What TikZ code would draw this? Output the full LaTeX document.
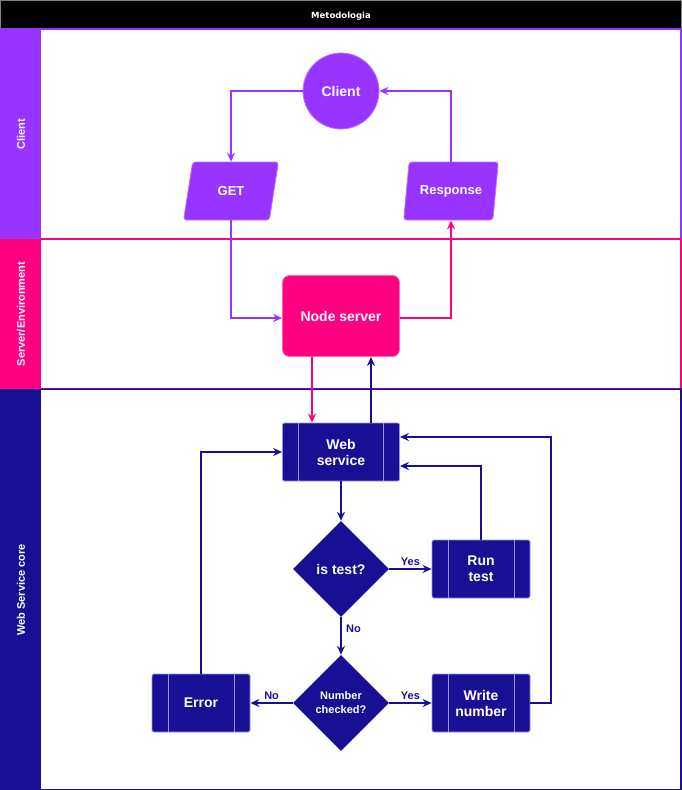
\documentclass[tikz,border=0pt]{standalone}
\usepackage{fontspec}
\setmainfont{Liberation Sans}
\newfontfamily\titlefont{DejaVu Sans}
\usetikzlibrary{shapes.geometric,arrows.meta}
\definecolor{cpurple}{HTML}{9933FF}
\definecolor{cpink}{HTML}{FF0080}
\definecolor{cnavy}{HTML}{190F94}
\definecolor{cline}{HTML}{9A92E0}
\begin{document}
\begin{tikzpicture}[x=1pt,y=-1pt,
  lbl/.style={font=\fontsize{14}{16}\selectfont\bfseries, text=white, align=center},
  io/.style={trapezium, trapezium left angle=71, trapezium right angle=109,
    trapezium stretches=true, minimum width=95pt, minimum height=58pt, inner sep=0pt,
    rounded corners=3pt, fill=cpurple, draw=cpurple!70!white, line width=0.8pt,
    font=\fontsize{13}{15}\selectfont\bfseries, text=white},
  proc/.style={rectangle, rounded corners=2pt, fill=cnavy, draw=cline, line width=0.8pt,
    minimum width=98pt, minimum height=58pt, inner sep=0pt, lbl,
    path picture={
      \draw[cline, line width=0.8pt]
        ([xshift=16pt]path picture bounding box.north west) -- ([xshift=16pt]path picture bounding box.south west)
        ([xshift=-16pt]path picture bounding box.north east) -- ([xshift=-16pt]path picture bounding box.south east);}},
  decision/.style={diamond, aspect=1, fill=cnavy, minimum width=96pt, minimum height=96pt,
    inner sep=0pt, text=white, align=center},
  flow/.style={line width=1.6pt, -{Stealth[length=9pt,width=8pt,inset=3pt]}},
  edgelbl/.style={font=\fontsize{11}{13}\selectfont\bfseries, text=cnavy},
  lanelbl/.style={rotate=90, font=\fontsize{11}{13}\selectfont\bfseries, text=white}]
\useasboundingbox (0,0) rectangle (682,790);

% title bar
\fill[black] (0,0) rectangle (682,28);
\draw[gray, line width=1pt] (0.5,0.5) rectangle (681.5,28);
\node[font=\titlefont\fontsize{8.5}{10}\selectfont\bfseries, text=white] (title) at (341,16) {Metodologia};

% swimlanes
\fill[cpurple] (0,28) rectangle (41,239);
\draw[cpurple, line width=1.5pt] (41,29) -- (681,29) -- (681,239);
\node[lanelbl] (laneclient) at (21,134) {Client};

\fill[cpink] (0,239) rectangle (41,389);
\draw[cpink, line width=1.5pt] (41,239) -- (681,239) -- (681,389);
\node[lanelbl] (laneserver) at (21,314) {Server/Environment};

\fill[cnavy] (0,389) rectangle (41,790);
\draw[cnavy, line width=1.5pt] (41,389) -- (681,389) -- (681,789.25) -- (41,789.25);
\node[lanelbl] (laneweb) at (21,590) {Web Service core};
\draw[cpink!50!cnavy, line width=1pt] (41,388.5) -- (681,388.5);

% client lane
\node[circle, fill=cpurple, draw=cpurple!70!white, line width=0.8pt, minimum size=76pt, inner sep=0pt, lbl] (client) at (341,91) {Client};
\node[io] (get) at (231,191) {GET};
\node[io] (resp) at (451,191) {Response};

% server lane
\node[rectangle, rounded corners=7pt, fill=cpink, draw=cpink!60!white, line width=0.8pt,
  minimum width=117pt, minimum height=81pt, inner sep=0pt, lbl] (ns) at (341,316) {Node server};

% web service core lane
\node[proc, minimum width=117pt] (ws) at (341,452) {Web\\service};
\node[decision, lbl] (d1) at (341,569) {is test?};
\node[proc] (rt) at (481,569) {Run\\test};
\node[decision, font=\fontsize{11}{14}\selectfont\bfseries] (d2) at (341,703) {Number\\checked?};
\node[proc] (err) at (201,703) {Error};
\node[proc] (wn) at (481,703) {Write\\number};
\coordinate (wr) at (551,437);

% connectors
\draw[flow, cpurple] (client.west) -| (get.north);
\draw[flow, cpurple] (resp.north) |- (client.east);
\draw[flow, cpurple] (get.south) |- ([yshift=-2pt]ns.west);
\draw[flow, cpink] ([yshift=-2pt]ns.east) -| (resp.south);
\draw[flow, cpink] ([xshift=-29pt]ns.south) -- ([xshift=-29pt]ws.north);
\draw[flow, cnavy] ([xshift=30pt]ws.north) -- ([xshift=30pt]ns.south);
\draw[flow, cnavy] (ws.south) -- (d1.north);
\draw[flow, cnavy] (d1.east) -- (rt.west) node[edgelbl, midway, above, yshift=-1pt] {Yes};
\draw[flow, cnavy] (d1.south) -- (d2.north) node[edgelbl, pos=0.3, right, xshift=1pt] {No};
\draw[flow, cnavy] (d2.west) -- (err.east) node[edgelbl, midway, above, yshift=-1pt] {No};
\draw[flow, cnavy] (d2.east) -- (wn.west) node[edgelbl, midway, above, yshift=-1pt] {Yes};
\draw[flow, cnavy] (err.north) |- (ws.west);
\draw[flow, cnavy] (rt.north) |- ([yshift=-14pt]ws.east);
\draw[flow, cnavy] (wn.east) -| (wr) -- ([yshift=15pt]ws.east);
\end{tikzpicture}
\end{document}
